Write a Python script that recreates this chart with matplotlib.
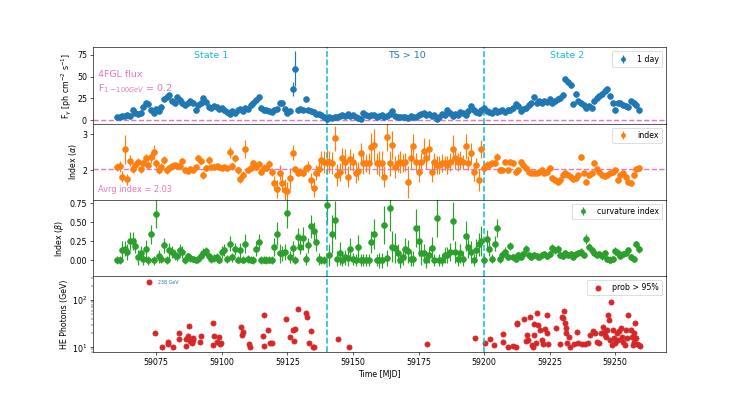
import numpy as np
import matplotlib
matplotlib.use("Agg")
import matplotlib.pyplot as plt

# ---------------- data ----------------
days = np.arange(59060, 59260)  # daily bins (MJD)

flux = [4, 4, 5, 5, 6, 5, 11, 8, 7, 8,
        15, 19, 18, 12, 8, 13, 10, 15, 24, 27,
        29, 22, 20, 27, 23, 20, 17, 19, 22, 20,
        12, 17, 20, 25, 21, 15, 14, 16, 15, 13,
        14, 11, 9, 7, 10, 8, 11, 13, 10, 14,
        13, 17, 19, 23, 26, 14, 12, 11, 10, 9,
        11, 13, 20, 19, 13, 8, 10, 36, 59, 12,
        13, 11, 24, 12, 10, 9, 7, 7, 6, 4,
        1, 3, 2, 3, 4, 5, 6, 5, 7, 5,
        6, 3, 2, 1, 8, 6, 5, 6, 6, 4,
        5, 6, 4, 5, 7, 10, 5, 4, 3, 4,
        3, 2, 5, 3, 4, 6, 7, 8, 6, 7,
        5, 6, 1, 4, 7, 6, 11, 8, 5, 7,
        6, 9, 8, 6, 10, 16, 12, 9, 8, 12,
        14, 10, 9, 8, 11, 9, 10, 11, 9, 12,
        11, 14, 18, 16, 10, 13, 14, 17, 20, 27,
        20, 22, 19, 22, 21, 24, 20, 22, 24, 25,
        29, 47, 44, 40, 18, 30, 22, 19, 17, 14,
        16, 14, 22, 25, 28, 30, 33, 36, 28, 20,
        11, 20, 19, 17, 16, 15, 22, 20, 17, 12]

flux_err = [1.5, 1.5, 1.5, 1.5, 1.5, 1.5, 2, 2, 2, 2,
            2, 2, 2, 2, 2, 2, 2, 2, 2, 2,
            2, 2, 2, 2, 2, 2, 2, 2, 2, 2,
            2, 2, 2, 2, 2, 2, 2, 2, 2, 2,
            2, 2, 2, 2, 2, 2, 2, 2, 2, 2,
            2, 2, 2, 2, 2, 2, 2, 2, 2, 2,
            2, 2, 2, 2, 2, 2, 2, 8, 20, 2,
            2, 2, 3, 2, 2, 2, 2, 2, 2, 2,
            2, 2, 2, 2, 2, 2, 2, 2, 2, 2,
            2, 2, 2, 2, 2, 2, 2, 2, 2, 2,
            2, 2, 2, 2, 2, 2, 2, 2, 2, 2,
            2, 2, 2, 2, 2, 2, 2, 2, 2, 2,
            2, 2, 2, 2, 2, 2, 2, 2, 2, 2,
            2, 2, 2, 2, 2, 2, 2, 2, 2, 2,
            2, 2, 2, 2, 2, 2, 2, 2, 2, 2,
            2, 2, 2, 2, 2, 2, 2, 2, 2, 2,
            2, 2, 2, 2, 2, 2, 2, 2, 2, 2,
            2, 3, 3, 3, 2, 2, 2, 2, 2, 2,
            2, 2, 2, 2, 2, 2, 2, 2, 2, 2,
            2, 2, 2, 2, 2, 2, 2, 2, 2, 2]

index = [2.09, 2.10, 1.81, 2.58, 1.74, 2.26, 2.02, 2.14, 2.23, 2.02,
         2.19, 2.33, 2.14, 2.36, 2.51, 2.19, 2.00, 2.09, 2.28, 2.00,
         2.05, 2.12, 2.13, 2.11, 2.12, 2.26, 2.00, 1.98, 2.02, 2.00,
         2.09, 2.33, 2.26, 1.86, 2.05, 2.28, 2.09, 2.08, 2.10, 2.09,
         2.07, 2.09, 2.05, 2.50, 2.11, 2.33, 2.00, 1.74, 1.86, 2.60,
         2.00, 2.05, 2.21, 2.09, 2.16, 1.95, 2.07, 2.05, 2.17, 1.95,
         1.63, 1.46, 1.93, 1.64, 1.44, 1.42, 1.77, 2.49, 2.02, 1.93,
         1.95, 1.93, 2.05, 2.09, 1.72, 1.49, 1.93, 2.02, 2.28, 2.23,
         2.23, 2.23, 2.20, 2.89, 1.86, 1.95, 2.33, 2.23, 1.81, 2.30,
         2.23, 1.93, 1.98, 2.47, 2.19, 2.19, 2.19, 2.65, 2.70, 2.19,
         2.19, 2.19, 1.81, 2.92, 2.19, 2.70, 2.09, 2.19, 2.23, 2.19,
         2.23, 1.67, 2.33, 2.67, 2.23, 1.95, 2.23, 2.54, 2.33, 2.58,
         1.95, 2.23, 2.14, 2.14, 2.19, 2.20, 2.14, 2.23, 2.58, 2.33,
         2.23, 2.28, 2.23, 2.67, 2.19, 2.47, 1.95, 2.14, 1.72, 2.58,
         2.05, 2.14, 2.14, 2.20, 2.19, 2.37, 2.00, 2.00, 2.23, 2.00,
         2.23, 2.20, 1.95, 2.00, 2.23, 2.14, 2.05, 1.95, 1.91, 1.91,
         1.93, 1.95, 2.00, 1.91, 1.95, 2.05, 1.77, 1.72, 1.67, 1.72,
         1.86, 1.91, 1.86, 1.81, 1.74, 1.79, 1.86, 2.36, 1.91, 1.67,
         1.86, 1.91, 2.19, 2.02, 1.95, 1.86, 1.83, 1.86, 1.91, 1.95,
         2.00, 1.72, 1.86, 1.93, 1.81, 1.67, 1.63, 1.86, 2.02, 2.05]

index_err = [0.12, 0.15, 0.15, 0.40, 0.15, 0.15, 0.10, 0.12, 0.12, 0.10,
             0.10, 0.12, 0.10, 0.15, 0.20, 0.12, 0.10, 0.10, 0.12, 0.10,
             0.08, 0.06, 0.06, 0.06, 0.06, 0.08, 0.06, 0.06, 0.06, 0.06,
             0.06, 0.10, 0.08, 0.10, 0.08, 0.10, 0.05, 0.05, 0.05, 0.05,
             0.05, 0.06, 0.06, 0.15, 0.10, 0.10, 0.10, 0.10, 0.10, 0.25,
             0.08, 0.08, 0.08, 0.10, 0.10, 0.10, 0.10, 0.08, 0.10, 0.12,
             0.20, 0.25, 0.20, 0.25, 0.30, 0.25, 0.30, 0.20, 0.08, 0.10,
             0.10, 0.10, 0.10, 0.15, 0.20, 0.25, 0.20, 0.20, 0.25, 0.30,
             0.35, 0.30, 0.30, 0.35, 0.30, 0.25, 0.30, 0.35, 0.30, 0.30,
             0.25, 0.30, 0.25, 0.30, 0.30, 0.25, 0.30, 0.40, 0.45, 0.30,
             0.35, 0.35, 0.30, 0.40, 0.35, 0.40, 0.30, 0.25, 0.30, 0.25,
             0.25, 0.45, 0.30, 0.35, 0.25, 0.30, 0.25, 0.35, 0.30, 0.30,
             0.30, 0.25, 0.25, 0.25, 0.25, 0.20, 0.25, 0.25, 0.40, 0.30,
             0.25, 0.25, 0.20, 0.35, 0.20, 0.30, 0.25, 0.20, 0.30, 0.25,
             0.12, 0.10, 0.10, 0.08, 0.08, 0.10, 0.08, 0.06, 0.06, 0.06,
             0.06, 0.05, 0.05, 0.05, 0.05, 0.05, 0.05, 0.04, 0.04, 0.04,
             0.04, 0.04, 0.04, 0.04, 0.04, 0.04, 0.05, 0.05, 0.05, 0.05,
             0.05, 0.04, 0.04, 0.04, 0.04, 0.04, 0.04, 0.08, 0.04, 0.05,
             0.04, 0.04, 0.05, 0.04, 0.04, 0.04, 0.04, 0.04, 0.04, 0.04,
             0.04, 0.05, 0.04, 0.04, 0.04, 0.05, 0.05, 0.04, 0.05, 0.05]

curv = [0.00, 0.00, 0.13, 0.15, 0.11, 0.25, 0.25, 0.19, 0.04, 0.09,
        0.02, 0.15, 0.00, 0.34, 0.00, 0.61, 0.05, 0.02, 0.20, 0.00,
        0.13, 0.11, 0.07, 0.05, 0.13, 0.11, 0.00, 0.05, 0.03, 0.02,
        0.00, 0.02, 0.06, 0.10, 0.12, 0.05, 0.02, 0.03, 0.04, 0.00,
        0.11, 0.13, 0.02, 0.22, 0.04, 0.15, 0.01, 0.13, 0.01, 0.22,
        0.02, 0.01, 0.00, 0.15, 0.24, 0.00, 0.01, 0.00, 0.01, 0.00,
        0.18, 0.35, 0.09, 0.09, 0.11, 0.62, 0.04, 0.16, 0.00, 0.31,
        0.18, 0.29, 0.02, 0.20, 0.45, 0.38, 0.24, 0.02, 0.00, 0.00,
        0.73, 0.07, 0.35, 0.53, 0.02, 0.09, 0.00, 0.04, 0.03, 0.15,
        0.02, 0.00, 0.18, 0.00, 0.00, 0.00, 0.00, 0.24, 0.35, 0.00,
        0.00, 0.00, 0.46, 0.03, 0.69, 0.18, 0.16, 0.09, 0.00, 0.04,
        0.15, 0.12, 0.02, 0.02, 0.43, 0.26, 0.09, 0.09, 0.00, 0.07,
        0.16, 0.00, 0.56, 0.00, 0.00, 0.07, 0.07, 0.11, 0.52, 0.11,
        0.02, 0.09, 0.02, 0.32, 0.18, 0.11, 0.00, 0.13, 0.21, 0.25,
        0.00, 0.28, 0.15, 0.02, 0.22, 0.43, 0.02, 0.07, 0.11, 0.04,
        0.19, 0.04, 0.02, 0.07, 0.04, 0.08, 0.15, 0.07, 0.04, 0.07,
        0.05, 0.04, 0.07, 0.08, 0.06, 0.08, 0.16, 0.13, 0.15, 0.07,
        0.06, 0.09, 0.07, 0.08, 0.04, 0.08, 0.09, 0.11, 0.07, 0.28,
        0.18, 0.13, 0.09, 0.07, 0.08, 0.05, 0.10, 0.02, 0.01, 0.02,
        0.12, 0.10, 0.06, 0.08, 0.09, 0.13, 0.04, 0.02, 0.21, 0.15]

curv_err = [0.05, 0.05, 0.12, 0.10, 0.10, 0.12, 0.12, 0.10, 0.10, 0.10,
            0.08, 0.12, 0.06, 0.12, 0.06, 0.18, 0.08, 0.06, 0.10, 0.05,
            0.10, 0.08, 0.06, 0.06, 0.08, 0.08, 0.05, 0.05, 0.05, 0.04,
            0.04, 0.05, 0.06, 0.06, 0.06, 0.05, 0.05, 0.05, 0.05, 0.04,
            0.08, 0.08, 0.05, 0.10, 0.06, 0.08, 0.05, 0.10, 0.05, 0.12,
            0.05, 0.05, 0.05, 0.10, 0.10, 0.05, 0.05, 0.05, 0.05, 0.05,
            0.12, 0.15, 0.12, 0.10, 0.10, 0.20, 0.08, 0.10, 0.05, 0.12,
            0.10, 0.15, 0.08, 0.10, 0.15, 0.12, 0.12, 0.08, 0.05, 0.05,
            0.25, 0.15, 0.25, 0.25, 0.10, 0.15, 0.08, 0.10, 0.10, 0.15,
            0.08, 0.08, 0.15, 0.08, 0.08, 0.08, 0.08, 0.15, 0.20, 0.08,
            0.10, 0.10, 0.25, 0.10, 0.30, 0.20, 0.20, 0.12, 0.10, 0.10,
            0.15, 0.15, 0.10, 0.10, 0.25, 0.20, 0.15, 0.12, 0.10, 0.10,
            0.15, 0.08, 0.25, 0.08, 0.08, 0.10, 0.10, 0.12, 0.25, 0.15,
            0.10, 0.12, 0.10, 0.20, 0.15, 0.15, 0.08, 0.15, 0.15, 0.20,
            0.08, 0.12, 0.10, 0.06, 0.10, 0.12, 0.05, 0.05, 0.06, 0.04,
            0.05, 0.04, 0.04, 0.04, 0.04, 0.04, 0.05, 0.04, 0.04, 0.04,
            0.04, 0.04, 0.04, 0.04, 0.04, 0.04, 0.05, 0.05, 0.05, 0.04,
            0.04, 0.04, 0.04, 0.04, 0.04, 0.04, 0.04, 0.05, 0.04, 0.06,
            0.05, 0.05, 0.04, 0.04, 0.04, 0.04, 0.04, 0.04, 0.04, 0.04,
            0.05, 0.05, 0.04, 0.04, 0.04, 0.05, 0.04, 0.04, 0.05, 0.05]

photon_day = [59072.3, 59074.5, 59077.3, 59079.4, 59079.6, 59081.5, 59083.8, 59083.7,
              59086.4, 59086.2, 59087.2, 59087.6, 59087.9, 59088.5, 59088.9, 59089.1,
              59091.7, 59092.1, 59096.5, 59096.8, 59097.0, 59098.0, 59099.1, 59099.3,
              59099.7, 59107.3, 59108.0, 59107.6, 59110.4, 59110.8, 59115.6, 59116.2,
              59116.1, 59117.8, 59118.4, 59119.3, 59124.4, 59126.0, 59127.3, 59127.7,
              59127.9, 59128.9, 59132.1, 59132.4, 59133.9, 59133.4, 59134.7, 59135.3,
              59144.4, 59148.6,
              59178.4, 59196.6, 59200.4, 59202.3, 59203.6, 59207.1, 59207.1, 59209.3,
              59210.9, 59212.2, 59212.5, 59212.7, 59215.4, 59216.3, 59216.0, 59216.9,
              59217.5, 59218.1, 59218.8, 59219.1, 59219.1, 59219.8, 59220.1, 59220.7,
              59221.4, 59222.0, 59222.6, 59223.2, 59223.9, 59223.9, 59224.3, 59227.5,
              59229.0, 59229.6, 59230.3, 59230.0, 59230.9, 59231.3, 59231.3, 59231.5,
              59232.2, 59232.8, 59234.1, 59235.3, 59236.0, 59237.3, 59238.5, 59239.8,
              59240.2, 59241.5, 59242.3, 59243.0, 59244.0, 59244.5, 59245.3, 59245.8,
              59246.2, 59246.6, 59246.8, 59247.4, 59247.8, 59248.1, 59248.4, 59248.7,
              59249.3, 59249.6, 59250.0, 59250.6, 59250.9, 59251.6, 59252.1, 59252.5,
              59253.1, 59253.8, 59254.2, 59254.4, 59254.8, 59255.9, 59256.3, 59256.7,
              59257.0, 59257.2, 59257.6, 59258.0, 59258.3, 59258.9, 59259.5]

photon_energy = [238, 20.4, 10.0, 13.2, 11.7, 10.0, 19.7, 14.7,
                 15.0, 10.6, 17.3, 28.2, 13.6, 12.1, 16.0, 14.3,
                 13.2, 17.6, 33.2, 11.2, 17.3, 13.2, 16.8, 11.7,
                 12.5, 26.4, 20.7, 18.2, 11.7, 10.3, 17.3, 48.2,
                 10.6, 23.2, 12.1, 12.5, 39.0, 16.8, 23.2, 13.6,
                 24.8, 63.5, 54.0, 44.5, 22.1, 12.5, 10.3, 10.0,
                 15.0, 10.3,
                 11.7, 16.0, 12.1, 14.7, 11.2, 19.1, 13.2, 10.0,
                 10.6, 10.3, 33.2, 31.1, 39.0, 18.2, 13.8, 14.3,
                 44.5, 11.2, 10.0, 31.1, 18.2, 12.5, 52.2, 29.6,
                 23.2, 14.3, 11.7, 24.0, 48.2, 19.7, 11.7, 25.2,
                 11.7, 44.5, 59.5, 41.0, 33.2, 25.2, 19.7, 12.1,
                 16.8, 10.3, 11.7, 21.4, 12.5, 11.7, 11.7, 12.5,
                 18.2, 22.5, 19.7, 13.2, 12.1, 19.7, 26.4, 21.4,
                 18.2, 16.8, 23.2, 48.2, 37.8, 14.3, 89.3, 11.2,
                 23.2, 15.5, 12.1, 19.7, 14.3, 22.5, 25.2, 16.8,
                 13.2, 11.2, 23.2, 15.5, 48.2, 23.2, 16.8, 11.2,
                 13.2, 19.7, 33.2, 15.5, 11.7, 11.2, 10.6]

fgl_flux = 0.2
avg_index = 2.03
state_edges = [59140, 59200]

# ---------------- figure ----------------
DPI = 56.93
fig, axes = plt.subplots(4, 1, sharex=True, figsize=(13, 6.957), dpi=DPI,
                         gridspec_kw=dict(hspace=0))
ax1, ax2, ax3, ax4 = axes
pink = 'tab:pink'
cyan = 'tab:cyan'
ms = 7.2

# Panel 1: flux
ax1.errorbar(days, flux, yerr=flux_err, fmt='o', color='tab:blue', ms=ms,
             elinewidth=1.5, label='1 day')
ax1.axhline(fgl_flux, color=pink, ls='--', lw=1.8)
ax1.set_ylim(-4.3, 83.6)
ax1.set_yticks([0, 25, 50, 75])
ax1.set_ylabel(r'F$_\gamma$ [ph cm$^{-2}$ s$^{-1}$]')
ax1.text(0.01, 0.64, '4FGL flux', transform=ax1.transAxes, color=pink,
         fontsize=12, va='center', ha='left')
ax1.text(0.01, 0.455, r'F$_{1-100GeV}$ = 0.2', transform=ax1.transAxes, color=pink,
         fontsize=12, va='center', ha='left')
ax1.text(59096, 0.90, 'State 1', transform=ax1.get_xaxis_transform(), color=cyan,
         fontsize=12, ha='center', va='center')
ax1.text(59170.5, 0.90, 'TS > 10', transform=ax1.get_xaxis_transform(), color='tab:blue',
         fontsize=12, ha='center', va='center')
ax1.text(59231.8, 0.90, 'State 2', transform=ax1.get_xaxis_transform(), color=cyan,
         fontsize=12, ha='center', va='center')
ax1.legend(loc='upper right', markerscale=0.7)

# Panel 2: index
ax2.errorbar(days, index, yerr=index_err, fmt='o', color='tab:orange', ms=ms,
             elinewidth=1.5, label='index')
ax2.axhline(avg_index, color=pink, ls='--', lw=1.8)
ax2.set_ylim(1.16, 3.30)
ax2.set_yticks([2, 3])
ax2.set_ylabel(r'Index ($\alpha$)')
ax2.text(0.01, 0.14, 'Avrg index = 2.03', transform=ax2.transAxes, color=pink,
         fontsize=10.5, va='center', ha='left')
ax2.legend(loc='upper right', markerscale=0.7)

# Panel 3: curvature
ax3.errorbar(days, curv, yerr=curv_err, fmt='o', color='tab:green', ms=ms,
             elinewidth=1.5, label='curvature index')
ax3.set_ylim(-0.21, 0.795)
ax3.set_yticks([0.0, 0.25, 0.5, 0.75])
ax3.set_yticklabels(['0.00', '0.25', '0.50', '0.75'])
ax3.set_ylabel(r'Index ($\beta$)')
ax3.legend(loc='upper right', markerscale=0.7)

# Panel 4: HE photons
ax4.scatter(photon_day, photon_energy, color='tab:red', s=42, label='prob > 95%')
ax4.set_yscale('log')
ax4.set_ylim(7.8, 321)
ax4.set_ylabel('HE Photons (GeV)')
ax4.text(59075.5, 238, '238 GeV', color='tab:blue', fontsize=6, va='center', ha='left')
ax4.legend(loc='upper right')
ax4.set_xlabel('Time [MJD]')

for ax in axes:
    for e in state_edges:
        ax.axvline(e, color=cyan, ls='--', lw=2)

ax4.set_xlim(59050.7, 59269.4)
ax4.set_xticks([59075, 59100, 59125, 59150, 59175, 59200, 59225, 59250])

fig.savefig('out.png', dpi=DPI)
